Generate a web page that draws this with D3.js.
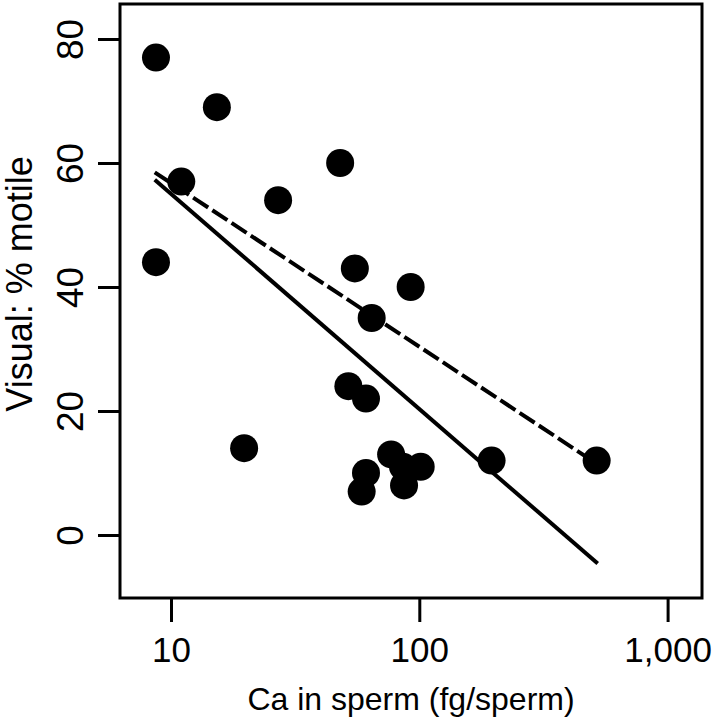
<!DOCTYPE html>
<html>
<head>
<meta charset="utf-8">
<script src="https://cdn.jsdelivr.net/npm/d3@7"></script>
<style>
  html, body { margin: 0; padding: 0; background: #fff; }
  svg { display: block; }
  text { font-family: "Liberation Sans", Arial, Helvetica, sans-serif; fill: #000; }
</style>
</head>
<body>
<script>
// ---- data ----
const caValues = [8.7, 8.7, 15.3, 11.0, 27.0, 48.0, 55.0, 64.3, 92.3, 51.8, 61.0, 19.7, 61.0, 58.6, 77.0, 86.0, 86.8, 101.3, 195.5, 518.0];
const motileValues = [77, 44, 69, 57, 54, 60, 43, 35, 40, 24, 22, 14, 10, 7, 13, 11, 8, 11, 12, 12];
const solidFitX = [8.6, 523];
const solidFitY = [57.3, -4.6];
const dashedFitX = [8.6, 523];
const dashedFitY = [58.5, 11.4];
const xTickValues = [10, 100, 1000];
const yTickValues = [0, 20, 40, 60, 80];
const xTitle = "Ca in sperm (fg/sperm)";
const yTitle = "Visual: % motile";

// ---- layout ----
const W = 718, H = 719;
const box = { left: 120, right: 702, top: 4, bottom: 598 };

const svg = d3.select("body").append("svg").attr("width", W).attr("height", H);

const x = d3.scaleLog().domain([10, 1000]).range([171, 667.6]);
const y = d3.scaleLinear().domain([0, 80]).range([535, 39]);

// points
const pts = caValues.map((c, i) => ({ x: c, y: motileValues[i] }));
svg.append("g").selectAll("circle").data(pts).join("circle")
  .attr("cx", d => x(d.x)).attr("cy", d => y(d.y)).attr("r", 14)
  .attr("fill", "#000");

// fit lines
const line = d3.line().x(d => x(d.x)).y(d => y(d.y));
const solid = solidFitX.map((v, i) => ({ x: v, y: solidFitY[i] }));
const dashed = dashedFitX.map((v, i) => ({ x: v, y: dashedFitY[i] }));
svg.append("path").datum(solid).attr("d", line)
  .attr("fill", "none").attr("stroke", "#000").attr("stroke-width", 4);
svg.append("path").datum(dashed).attr("d", line)
  .attr("fill", "none").attr("stroke", "#000").attr("stroke-width", 4)
  .attr("stroke-dasharray", "18,5");

// box
svg.append("rect")
  .attr("x", box.left).attr("y", box.top)
  .attr("width", box.right - box.left).attr("height", box.bottom - box.top)
  .attr("fill", "none").attr("stroke", "#000").attr("stroke-width", 3);

// x axis
const xAxis = d3.axisBottom(x).tickValues(xTickValues).tickSize(24).tickSizeOuter(0)
  .tickFormat(d3.format(","));
const gx = svg.append("g").attr("transform", `translate(0,${box.bottom})`).call(xAxis);
gx.select(".domain").remove();
gx.selectAll(".tick line").attr("stroke", "#000").attr("stroke-width", 3);
gx.selectAll(".tick text")
  .attr("y", 64).attr("dy", 0)
  .style("font-size", "35px")
  .style("font-family", "'Liberation Sans', Arial, sans-serif");

// y axis
const yAxis = d3.axisLeft(y).tickValues(yTickValues).tickSize(22).tickSizeOuter(0);
const gy = svg.append("g").attr("transform", `translate(${box.left},0)`).call(yAxis);
gy.select(".domain").remove();
gy.selectAll(".tick line").attr("stroke", "#000").attr("stroke-width", 3);
gy.selectAll(".tick text")
  .attr("x", 0).attr("dy", 0)
  .attr("text-anchor", "middle")
  .attr("transform", "translate(-37,0) rotate(-90)")
  .style("font-size", "37px")
  .style("font-family", "'Liberation Sans', Arial, sans-serif");

// titles
svg.append("text")
  .attr("x", 411).attr("y", 710)
  .attr("text-anchor", "middle")
  .style("font-size", "32px")
  .text(xTitle);

svg.append("text")
  .attr("transform", "translate(32,284) rotate(-90)")
  .attr("text-anchor", "middle")
  .style("font-size", "36px")
  .text(yTitle);
</script>
</body>
</html>
